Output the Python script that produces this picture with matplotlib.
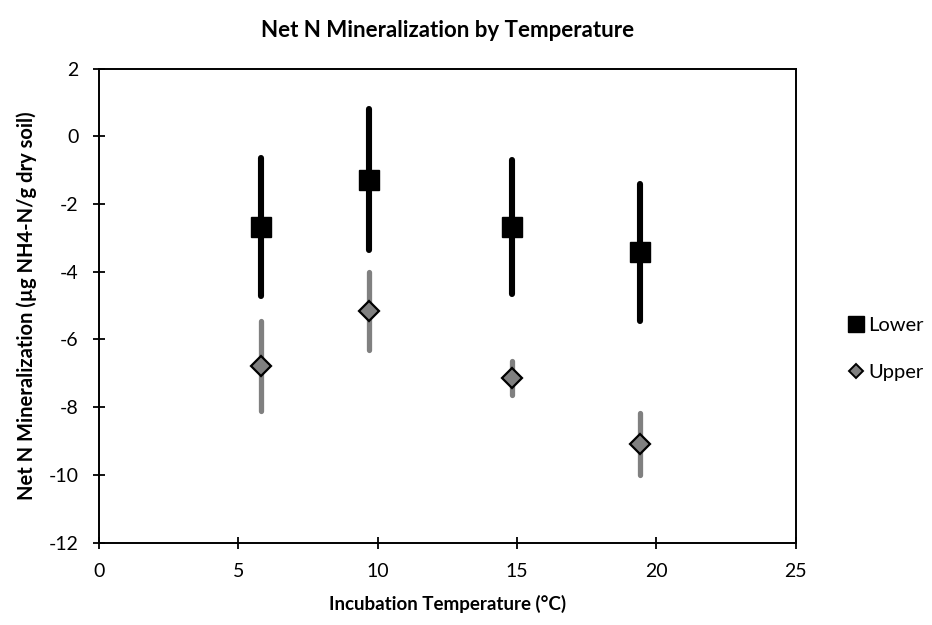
import matplotlib
matplotlib.use("Agg")
import matplotlib.pyplot as plt
from matplotlib.lines import Line2D

plt.rcParams['font.family'] = ['Lato', 'DejaVu Sans']
plt.rcParams['axes.unicode_minus'] = False

# Incubation temperatures (°C) and net N mineralization (µg NH4-N/g dry soil)
temp_lower = [5.81, 9.70, 14.81, 19.40]
lower_mean = [-2.68, -1.28, -2.68, -3.43]
lower_err = [2.04, 2.07, 1.97, 2.03]

temp_upper = [5.81, 9.70, 14.81, 19.42]
upper_mean = [-6.78, -5.16, -7.15, -9.09]
upper_err = [1.33, 1.14, 0.50, 0.92]

x_ticks = [0, 5, 10, 15, 20, 25]
y_ticks = [2, 0, -2, -4, -6, -8, -10, -12]

fig = plt.figure(figsize=(9.32, 6.25), dpi=100)
ax = fig.add_axes([0.1059, 0.1317, 0.7481, 0.7587])

el = ax.errorbar(temp_lower, lower_mean, yerr=lower_err, fmt='s', color='black',
                 ms=15, mec='black', mfc='black', ecolor='black', elinewidth=4.4,
                 capsize=0, zorder=3)
el[2][0].set_capstyle('round')

eu = ax.errorbar(temp_upper, upper_mean, yerr=upper_err, fmt='D', color='#808080',
                 ms=10, mec='black', mfc='#808080', mew=1.6, ecolor='#808080',
                 elinewidth=3.8, capsize=0, zorder=3)
eu[2][0].set_capstyle('round')

ax.set_xlim(0, 25)
ax.set_ylim(-12, 2)
ax.set_xticks(x_ticks)
ax.set_yticks(y_ticks)
ax.tick_params(direction='inout', length=9, width=1.3, labelsize=14, pad=10)
for s in ax.spines.values():
    s.set_linewidth(1.4)

ax.set_title('Net N Mineralization by Temperature', fontsize=16,
             fontweight='bold', pad=23)
ax.set_xlabel('Incubation Temperature (°C)', fontsize=13.5, fontweight='bold',
              labelpad=11)
ax.set_ylabel('Net N Mineralization (µg NH4-N/g dry soil)', fontsize=14.5,
              fontweight='bold', labelpad=8)

handles = [
    Line2D([], [], ls='none', marker='s', ms=11, mfc='black', mec='black'),
    Line2D([], [], ls='none', marker='D', ms=7.5, mfc='#808080', mec='black', mew=1.4),
]
fig.legend(handles, ['Lower', 'Upper'], loc='center left',
           bbox_to_anchor=(0.911, 0.442), frameon=False, fontsize=14.5,
           handlelength=0.7, handletextpad=0.25, labelspacing=1.5,
           borderaxespad=0, borderpad=0)

fig.savefig('out.png', dpi=100)
